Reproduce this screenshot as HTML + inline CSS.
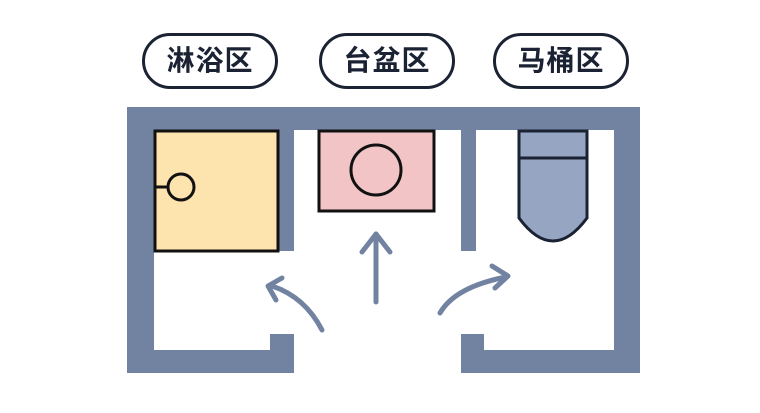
<!DOCTYPE html>
<html><head><meta charset="utf-8"><style>
html,body{margin:0;padding:0;background:#fff;width:760px;height:413px;overflow:hidden}
.pill{position:absolute;top:33px;height:50px;width:130px;border:3px solid #1a2233;border-radius:28px;font:bold 28px "Liberation Sans","Noto Sans CJK SC",sans-serif;color:#1a2233;text-align:center;line-height:50px;letter-spacing:1px}
</style></head><body>
<div class="pill" style="left:142px">淋浴区</div>
<div class="pill" style="left:319px">台盆区</div>
<div class="pill" style="left:493px">马桶区</div>
<svg width="760" height="413" style="position:absolute;left:0;top:0">
<g fill="#7283a2">
<rect x="127" y="107" width="513" height="23"/>
<rect x="127" y="107" width="27" height="266"/>
<rect x="614" y="107" width="26" height="266"/>
<rect x="127" y="350" width="167" height="23"/>
<rect x="270" y="334" width="24" height="39"/>
<rect x="461" y="350" width="179" height="23"/>
<rect x="461" y="334" width="23" height="39"/>
<rect x="279" y="130" width="15" height="121"/>
<rect x="461" y="130" width="15" height="121"/>
</g>
<rect x="155" y="131" width="123" height="120" fill="#fde3ad" stroke="#111" stroke-width="3"/>
<line x1="155" y1="187" x2="168" y2="187" stroke="#111" stroke-width="3"/>
<circle cx="181" cy="187" r="13" fill="#fde3ad" stroke="#111" stroke-width="3"/>
<rect x="319" y="131" width="115" height="80" fill="#f2c4c6" stroke="#111" stroke-width="3"/>
<circle cx="376" cy="170" r="25" fill="none" stroke="#111" stroke-width="3"/>
<path d="M519 131 H587 V218 Q570 241 553 241 Q536 241 519 218 Z" fill="#96a5c2" stroke="#1a2233" stroke-width="3"/>
<line x1="519" y1="158" x2="587" y2="158" stroke="#1a2233" stroke-width="3"/>
<g fill="none" stroke="#7283a2" stroke-width="5" stroke-linecap="round" stroke-linejoin="round">
<line x1="376" y1="302" x2="376" y2="234"/>
<polyline points="362,252 376,234 390,252"/>
<path d="M322 330 Q305 297 272 286"/>
<polyline points="282,278 268,286 276,300"/>
<path d="M440 313 Q455 287 506 277"/>
<polyline points="492,266 508,276 495,288"/>
</g>
</svg>
</body></html>
